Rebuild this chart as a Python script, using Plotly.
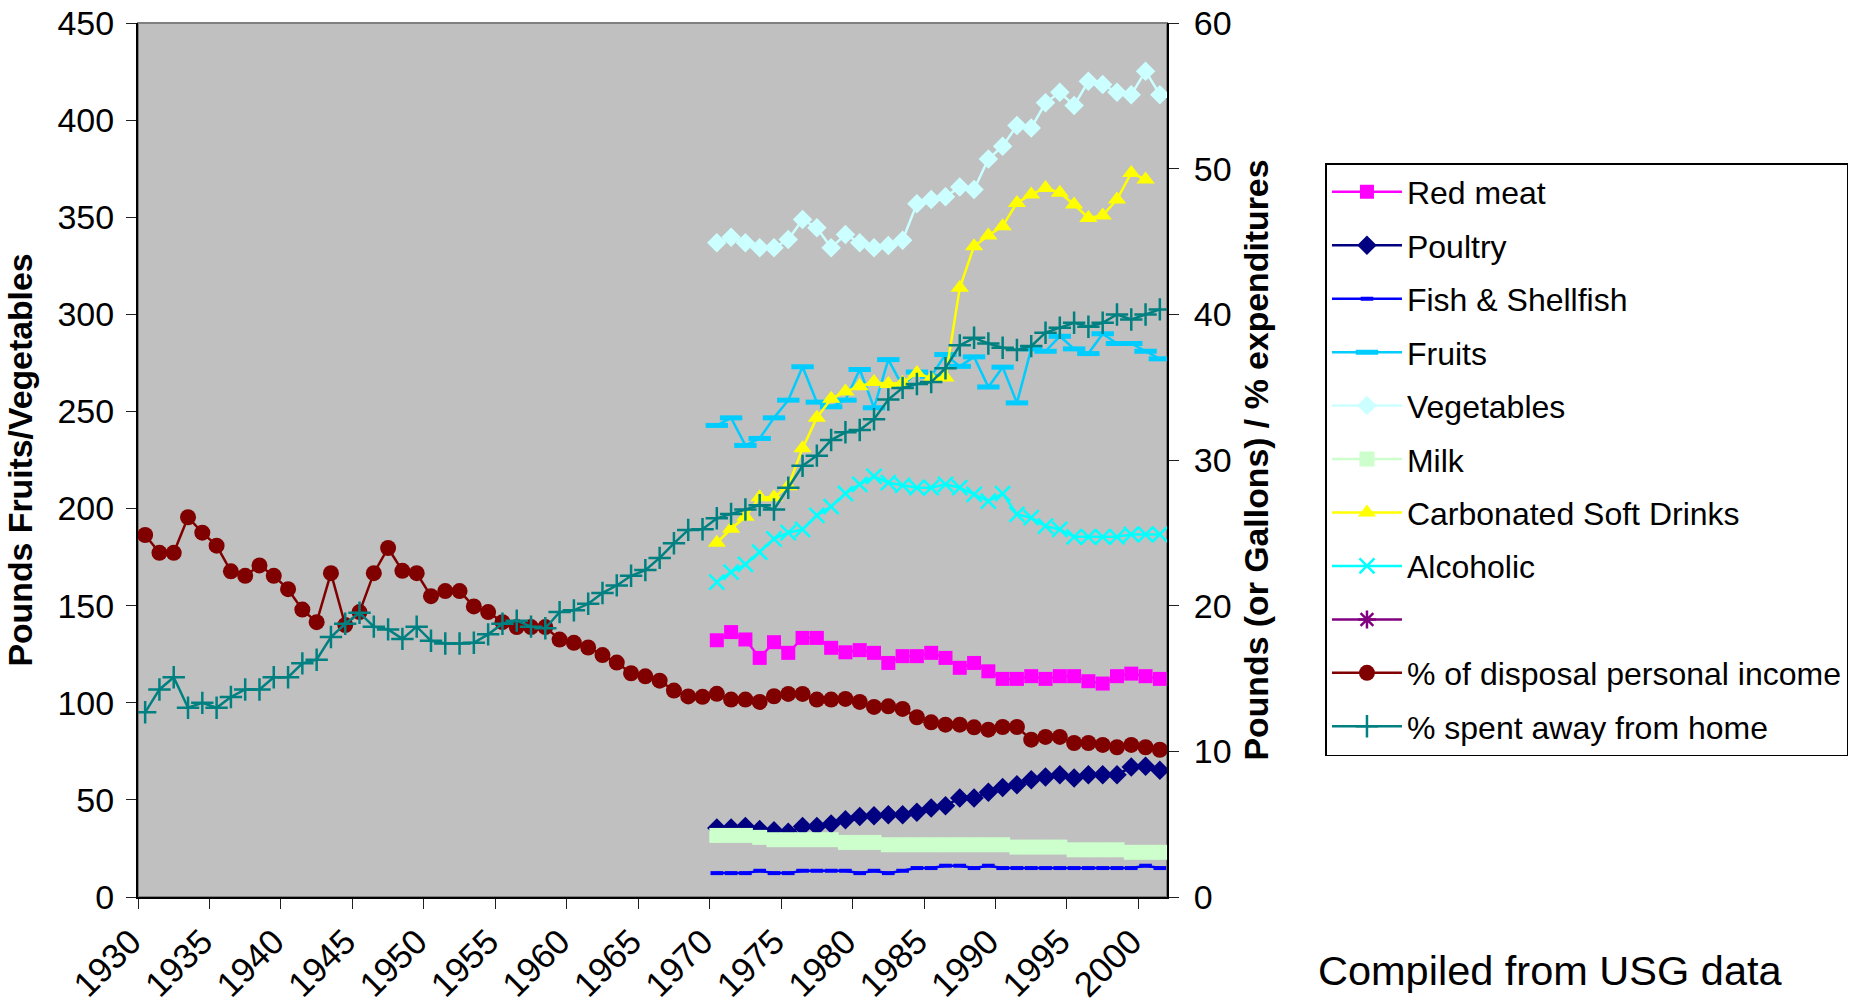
import plotly.graph_objects as go

# ---------------- data ----------------
years_long = list(range(1930, 2002))
years_short = list(range(1970, 2002))
years_soft = list(range(1970, 2001))
tick_labels = ["1930", "1935", "1940", "1945", "1950", "1955", "1960", "1965",
               "1970", "1975", "1980", "1985", "1990", "1995", "2000"]

# left axis (pounds / gallons)
red_meat = [132.2, 136.4, 132.6, 123.1, 131.2, 125.7, 133.4, 133.4, 128.3, 126.0,
            127.1, 125.7, 120.5, 124.0, 124.0, 125.7, 123.1, 118.0, 120.5, 116.2,
            112.3, 112.3, 113.7, 112.3, 113.7, 113.7, 111.1, 109.9, 113.7, 115.0,
            113.7, 112.3]
poultry = [35.5, 35.5, 36.3, 34.7, 34.1, 33.3, 36.3, 36.3, 37.6, 39.8,
           41.5, 41.8, 42.4, 42.4, 43.6, 45.8, 47.0, 51.0, 51.0, 53.9,
           56.4, 57.8, 60.4, 61.8, 63.0, 61.3, 63.0, 63.0, 63.0, 66.9,
           67.3, 65.2]
fish = [12.3, 12.3, 12.3, 13.5, 12.3, 12.3, 13.5, 13.5, 13.5, 13.5,
        12.3, 13.5, 12.3, 13.5, 14.9, 14.9, 16.1, 16.1, 14.9, 16.1,
        14.9, 14.9, 14.9, 14.9, 14.9, 14.9, 14.9, 14.9, 14.9, 14.9,
        16.1, 14.9]
fruits = [242.8, 246.7, 232.5, 236.1, 246.7, 255.8, 273.0, 254.8, 252.4, 255.8,
          271.6, 251.9, 276.7, 263.0, 270.3, 268.1, 279.3, 273.2, 278.1, 262.6,
          272.8, 254.4, 282.2, 281.0, 288.7, 282.2, 279.8, 290.0, 285.0, 285.0,
          281.0, 277.1]
vegetables = [336.8, 339.7, 336.8, 334.3, 334.3, 338.5, 348.8, 344.6, 334.3, 341.1,
              336.8, 334.3, 335.5, 338.2, 356.9, 359.1, 360.5, 365.6, 364.3, 380.0,
              386.6, 397.2, 396.0, 408.9, 414.3, 407.5, 420.0, 418.3, 414.3, 413.1,
              425.2, 413.1]
milk = [31.7, 31.7, 31.7, 30.7, 29.5, 29.5, 29.5, 29.5, 29.5, 28.1,
        28.1, 28.1, 26.9, 26.9, 26.9, 26.9, 26.9, 26.9, 26.9, 26.9,
        26.9, 25.7, 25.7, 25.7, 25.7, 24.3, 24.3, 24.3, 24.3, 23.0,
        23.0, 23.0]

# right axis (gallons / % expenditures)
soft_drinks = [24.32, 25.28, 26.1, 27.45, 27.45, 28.2, 30.8, 32.9, 34.2, 34.7,
               35.07, 35.35, 35.22, 35.3, 35.98, 35.6, 35.66, 41.82, 44.68, 45.41,
               46.05, 47.65, 48.23, 48.68, 48.34, 47.54, 46.62, 46.79, 47.88, 49.71,
               49.25]
alcoholic = [21.62, 22.30, 22.83, 23.68, 24.59, 25.01, 25.23, 26.2, 26.8, 27.7,
             28.33, 28.87, 28.44, 28.26, 28.10, 28.10, 28.33, 28.10, 27.64, 27.18,
             27.69, 26.27, 26.04, 25.46, 25.23, 24.73, 24.73, 24.73, 24.73, 24.89,
             24.89, 24.89]
unnamed_series = [None] * len(years_short)  # legend entry with no data
pct_income = [24.85, 23.63, 23.63, 26.07, 25.01, 24.12, 22.36, 22.05, 22.76, 22.05,
              21.13, 19.73, 18.87, 22.23, 18.67, 19.56, 22.23, 23.96, 22.39, 22.23,
              20.65, 21.0, 21.0, 19.95, 19.56, 18.87, 18.53, 18.53, 18.53, 17.67,
              17.45, 17.13, 16.61, 16.09, 15.36, 15.15, 14.85, 14.17, 13.77, 13.74,
              13.95, 13.55, 13.55, 13.39, 13.78, 13.94, 13.94, 13.55, 13.55, 13.60,
              13.39, 13.05, 13.09, 12.91, 12.34, 11.99, 11.83, 11.83, 11.65, 11.49,
              11.67, 11.67, 10.80, 10.99, 10.99, 10.57, 10.57, 10.44, 10.28, 10.44,
              10.28, 10.11]
pct_away = [12.68, 14.25, 15.09, 12.99, 13.33, 12.99, 13.73, 14.25, 14.25, 15.09,
            15.09, 16.04, 16.29, 17.85, 18.76, 19.51, 18.56, 18.37, 17.72, 18.56,
            17.59, 17.40, 17.40, 17.45, 18.03, 18.76, 18.97, 18.56, 18.45, 19.56,
            19.68, 20.13, 20.87, 21.39, 22.05, 22.44, 23.28, 24.28, 25.20, 25.25,
            26.0, 26.3, 26.6, 26.9, 26.6, 28.1, 29.6, 30.3, 31.37, 31.9,
            32.06, 32.8, 34.15, 34.95, 35.22, 35.35, 36.3, 37.87, 38.39, 38.0,
            37.71, 37.55, 37.82, 38.74, 39.08, 39.42, 39.15, 39.42, 39.99, 39.65,
            39.99, 40.34]

# ---------------- figure ----------------
FONT = "Liberation Sans"
fig = go.Figure()
LW = 2.5


def add(name, x, y, color, symbol, size, axis="y", mline=0, group=None):
    fig.add_trace(go.Scatter(
        x=x, y=y, name=name, mode="lines+markers", yaxis=axis,
        legendgroup=group or name,
        line=dict(color=color, width=LW),
        marker=dict(symbol=symbol, size=size, color=color,
                    line=dict(width=mline, color=color)),
    ))


add("Red meat", years_short, red_meat, "#FF00FF", "square", 14)
add("Poultry", years_short, poultry, "#000080", "diamond", 15)
add("Fish & Shellfish", years_short, fish, "#0000FF", "line-ew", 9, mline=4)
add("Fruits", years_short, fruits, "#00CCFF", "line-ew", 16, mline=5)
add("Vegetables", years_short, vegetables, "#CCFFFF", "diamond", 15)
add("Milk", years_short, milk, "#CCFFCC", "square", 15)
add("Carbonated Soft Drinks", years_soft, soft_drinks, "#FFFF00", "triangle-up", 16, axis="y2")
add("Alcoholic", years_short, alcoholic, "#00FFFF", "x-thin", 15, axis="y2", mline=2.5)
add(" ", years_short, unnamed_series, "#800080", "asterisk", 15, axis="y2", mline=2.5, group="blank")
add("% of disposal personal income", years_long, pct_income, "#800000", "circle", 16, axis="y2")
add("% spent away from home", years_long, pct_away, "#008080", "cross-thin", 16, axis="y2", mline=2.5)

x_range = [1929.5, 2001.5]
x_tickvals = [int(t) - 0.5 for t in tick_labels]
tickfont = dict(family=FONT, size=34, color="black")
xtickfont = dict(family=FONT, size=35, color="black")
TICKC = "#202020"
TITLEFONT = dict(family=FONT, size=33.8, color="black", weight="bold")

fig.update_layout(
    width=1854, height=1004,
    margin=dict(l=138, r=687, t=23, b=107, autoexpand=False),
    paper_bgcolor="white", plot_bgcolor="#C0C0C0",
    font=dict(family=FONT, color="black"),
    xaxis=dict(range=x_range, tickmode="array", tickvals=x_tickvals, ticktext=tick_labels,
               tickangle=-45, tickfont=xtickfont, ticks="outside", ticklen=10, tickwidth=1.3,
               tickcolor=TICKC, showline=True, linecolor="black", linewidth=2,
               showgrid=False, zeroline=False, ticklabelstandoff=-2, ticklabelshift=-7,
               ticklabeloverflow="allow", automargin=False),
    xaxis2=dict(range=x_range, overlaying="x", anchor="y", side="bottom", tickmode="array",
                tickvals=x_tickvals, ticks="inside", ticklen=10, tickwidth=1.3, tickcolor=TICKC,
                showticklabels=False, showgrid=False, zeroline=False, showline=False,
                automargin=False),
    yaxis=dict(range=[0, 450], dtick=50, tickfont=tickfont, ticks="outside", ticklen=10,
               tickwidth=1.3, tickcolor=TICKC, showline=True, linecolor="black", linewidth=2,
               showgrid=False, zeroline=False, ticklabelstandoff=5, ticklabeloverflow="allow",
               automargin=False,
               title=dict(text="Pounds Fruits/Vegetables", font=TITLEFONT, standoff=15)),
    yaxis2=dict(range=[0, 60], dtick=10, overlaying="y", side="right", anchor="x",
                tickfont=tickfont, ticks="outside", ticklen=10, tickwidth=1.3, tickcolor=TICKC,
                showline=True, linecolor="black", linewidth=2, showgrid=False, zeroline=False,
                ticklabelstandoff=8, ticklabeloverflow="allow", automargin=False,
                title=dict(text="Pounds (or Gallons) / % expenditures", font=TITLEFONT,
                           standoff=14)),
    yaxis3=dict(range=[0, 450], dtick=50, overlaying="y", side="left", anchor="x",
                ticks="inside", ticklen=10, tickwidth=1.3, tickcolor=TICKC,
                showticklabels=False, showgrid=False, zeroline=False, showline=False,
                automargin=False),
    yaxis4=dict(range=[0, 60], dtick=10, overlaying="y", side="right", anchor="x",
                ticks="inside", ticklen=10, tickwidth=1.3, tickcolor=TICKC,
                showticklabels=False, showgrid=False, zeroline=False, showline=False,
                automargin=False),
    legend=dict(x=1.154, y=0.8398, xanchor="left", yanchor="top",
                bgcolor="white", bordercolor="black", borderwidth=1.5,
                font=dict(family=FONT, size=32, color="black"),
                itemwidth=70, tracegroupgap=8.85, traceorder="grouped", valign="middle",
                itemclick=False, itemdoubleclick=False),
    shapes=[dict(type="rect", xref="paper", yref="paper", x0=0, x1=1, y0=0, y1=1,
                 line=dict(color="#808080", width=2), layer="below")],
    annotations=[dict(text="Compiled from USG data", xref="paper", yref="paper",
                      x=1.373, y=-0.084, xanchor="center", yanchor="middle", showarrow=False,
                      font=dict(family=FONT, size=41.5, color="black"))],
)

# remove the default 8px page margin so the 1854x1004 figure fills the window
fig.write_html("out.html",
               config={"displayModeBar": False},
               post_script="document.body.style.margin='0px';"
                           "document.documentElement.style.overflow='hidden';")
